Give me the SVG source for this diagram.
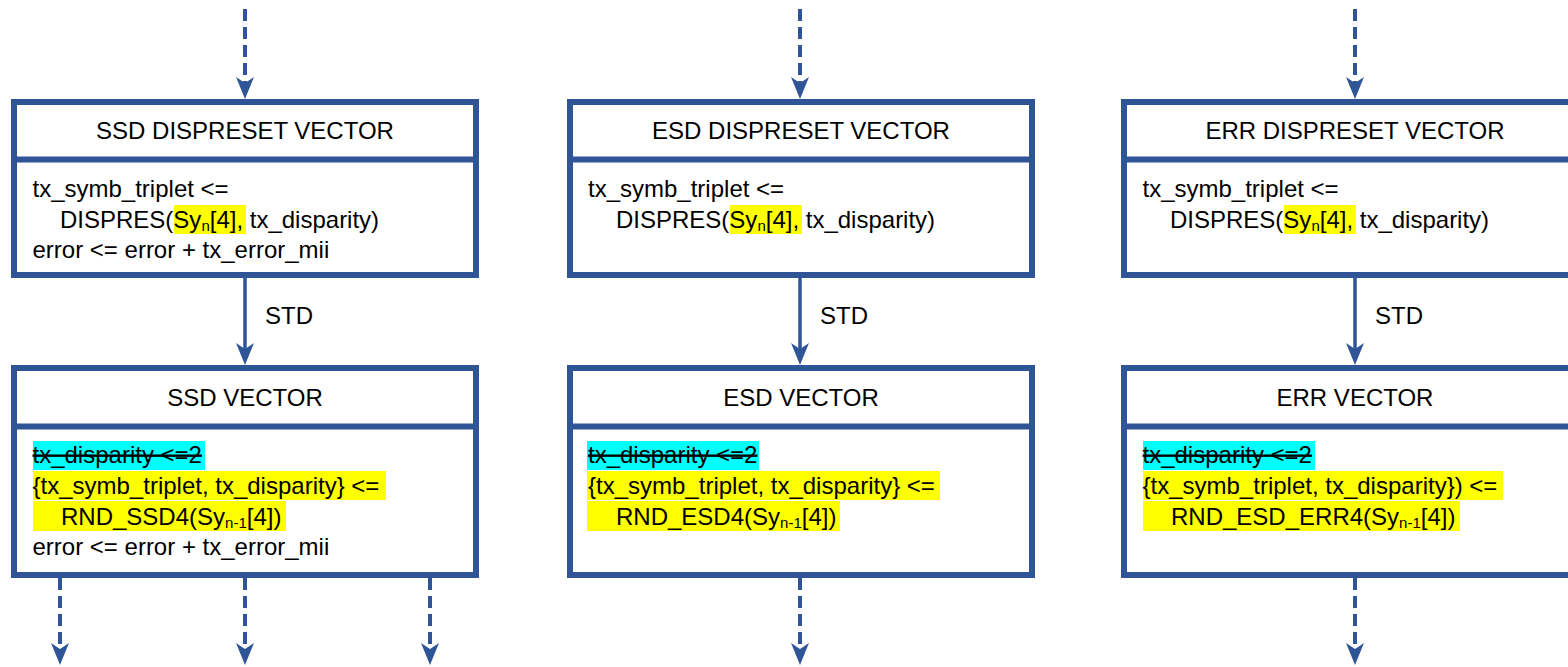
<svg xmlns="http://www.w3.org/2000/svg" width="1568" height="667" viewBox="0 0 1568 667">
<style>
  .box{fill:#fff;stroke:#2F5597;stroke-width:6}
  .div{stroke:#2F5597;stroke-width:6}
  text{font-family:"Liberation Sans",Arial,sans-serif;font-size:24px;fill:#000}
  .t{text-anchor:middle}
  .sub{font-size:15px}
  .cy{fill:#00FFFF}
  .ye{fill:#FFFF00}
  .strike{text-decoration:line-through}
  .dash{stroke:#2F5597;stroke-width:4;stroke-dasharray:12 6;fill:none}
  .solid{stroke:#2F5597;stroke-width:3.5;fill:none}
</style>
<defs>
  <marker id="ah" markerUnits="userSpaceOnUse" markerWidth="24" markerHeight="18" refX="12" refY="9" orient="auto" overflow="visible">
    <path d="M0,0 L22,9 L0,18 L6,9 Z" fill="#2F5597"/>
  </marker>
</defs>

<rect width="1568" height="667" fill="#fff"/>

<g id="connectors">
  <line class="dash" x1="245" y1="9" x2="245" y2="89" marker-end="url(#ah)"/>
  <line class="dash" x1="800" y1="9" x2="800" y2="89" marker-end="url(#ah)"/>
  <line class="dash" x1="1355" y1="9" x2="1355" y2="89" marker-end="url(#ah)"/>

  <line class="solid" x1="245" y1="278" x2="245" y2="355" marker-end="url(#ah)"/>
  <line class="solid" x1="800" y1="278" x2="800" y2="355" marker-end="url(#ah)"/>
  <line class="solid" x1="1355" y1="278" x2="1355" y2="355" marker-end="url(#ah)"/>
  <text x="265" y="324">STD</text>
  <text x="820" y="324">STD</text>
  <text x="1375" y="324">STD</text>

  <line class="dash" x1="60" y1="578" x2="60" y2="655" marker-end="url(#ah)"/>
  <line class="dash" x1="245" y1="578" x2="245" y2="655" marker-end="url(#ah)"/>
  <line class="dash" x1="430" y1="578" x2="430" y2="655" marker-end="url(#ah)"/>
  <line class="dash" x1="800" y1="578" x2="800" y2="655" marker-end="url(#ah)"/>
  <line class="dash" x1="1355" y1="578" x2="1355" y2="655" marker-end="url(#ah)"/>
</g>

<g id="ssd-dispreset">
  <rect class="box" x="14" y="102" width="462" height="173"/>
  <line class="div" x1="14" y1="159.5" x2="476" y2="159.5"/>
  <text class="t" x="245" y="139">SSD DISPRESET VECTOR</text>
  <rect class="ye" x="174" y="205" width="72" height="29"/>
  <text x="32.5" y="197">tx_symb_triplet &lt;=</text>
  <text x="60" y="228">DISPRES(Sy<tspan class="sub" dy="3">n</tspan><tspan dy="-3">[4], tx_disparity)</tspan></text>
  <text x="32.5" y="258">error &lt;= error + tx_error_mii</text>
</g>

<g id="ssd-vector">
  <rect class="box" x="14" y="368" width="462" height="207"/>
  <line class="div" x1="14" y1="426.5" x2="476" y2="426.5"/>
  <text class="t" x="245" y="406">SSD VECTOR</text>
  <rect class="cy" x="33" y="441" width="172" height="29"/>
  <rect class="ye" x="33" y="471" width="353" height="29"/>
  <rect class="ye" x="33" y="501" width="253" height="30"/>
  <text class="strike" x="32.5" y="463">tx_disparity &lt;=2</text>
  <text x="32.5" y="494">{tx_symb_triplet, tx_disparity} &lt;=</text>
  <text x="61" y="525">RND_SSD4(Sy<tspan class="sub" dy="3">n-1</tspan><tspan dy="-3">[4])</tspan></text>
  <text x="32.5" y="555">error &lt;= error + tx_error_mii</text>
</g>

<g id="esd-dispreset">
  <rect class="box" x="570" y="102" width="462" height="173"/>
  <line class="div" x1="570" y1="159.5" x2="1032" y2="159.5"/>
  <text class="t" x="801" y="139">ESD DISPRESET VECTOR</text>
  <rect class="ye" x="730" y="205" width="72" height="29"/>
  <text x="588" y="197">tx_symb_triplet &lt;=</text>
  <text x="616" y="228">DISPRES(Sy<tspan class="sub" dy="3">n</tspan><tspan dy="-3">[4], tx_disparity)</tspan></text>
</g>

<g id="esd-vector">
  <rect class="box" x="570" y="368" width="462" height="207"/>
  <line class="div" x1="570" y1="426.5" x2="1032" y2="426.5"/>
  <text class="t" x="801" y="406">ESD VECTOR</text>
  <rect class="cy" x="587" y="441" width="172" height="29"/>
  <rect class="ye" x="587" y="471" width="353" height="29"/>
  <rect class="ye" x="587" y="501" width="253" height="30"/>
  <text class="strike" x="588" y="463">tx_disparity &lt;=2</text>
  <text x="588" y="494">{tx_symb_triplet, tx_disparity} &lt;=</text>
  <text x="616" y="525">RND_ESD4(Sy<tspan class="sub" dy="3">n-1</tspan><tspan dy="-3">[4])</tspan></text>
</g>

<g id="err-dispreset">
  <rect class="box" x="1124" y="102" width="462" height="173"/>
  <line class="div" x1="1124" y1="159.5" x2="1586" y2="159.5"/>
  <text class="t" x="1355" y="139">ERR DISPRESET VECTOR</text>
  <rect class="ye" x="1284" y="205" width="72" height="29"/>
  <text x="1142.5" y="197">tx_symb_triplet &lt;=</text>
  <text x="1170" y="228">DISPRES(Sy<tspan class="sub" dy="3">n</tspan><tspan dy="-3">[4], tx_disparity)</tspan></text>
</g>

<g id="err-vector">
  <rect class="box" x="1124" y="368" width="462" height="207"/>
  <line class="div" x1="1124" y1="426.5" x2="1586" y2="426.5"/>
  <text class="t" x="1355" y="406">ERR VECTOR</text>
  <rect class="cy" x="1143" y="441" width="172" height="29"/>
  <rect class="ye" x="1143" y="471" width="360" height="29"/>
  <rect class="ye" x="1143" y="501" width="317" height="30"/>
  <text class="strike" x="1142.5" y="463">tx_disparity &lt;=2</text>
  <text x="1142.5" y="494">{tx_symb_triplet, tx_disparity}) &lt;=</text>
  <text x="1171" y="525">RND_ESD_ERR4(Sy<tspan class="sub" dy="3">n-1</tspan><tspan dy="-3">[4])</tspan></text>
</g>
</svg>
